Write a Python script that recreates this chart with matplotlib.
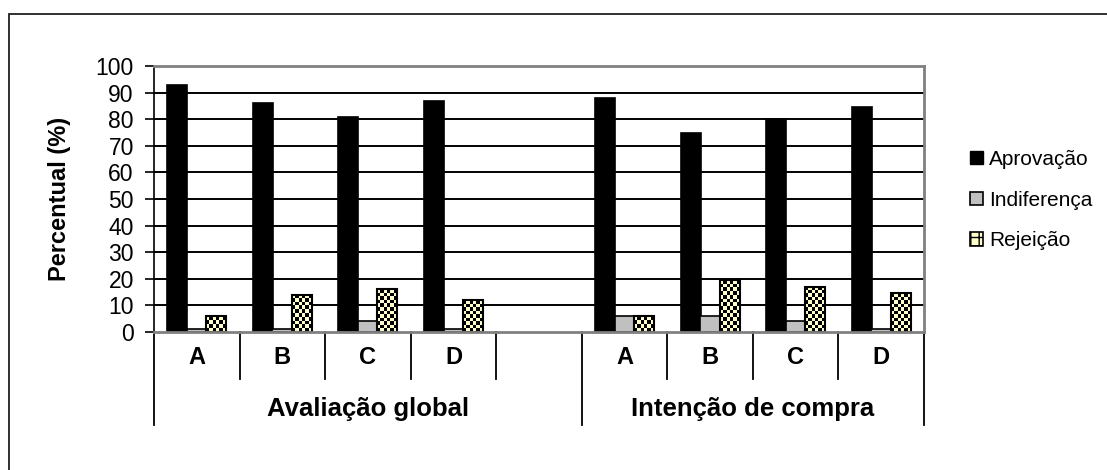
import numpy as np
import matplotlib
matplotlib.use("Agg")
import matplotlib.pyplot as plt
from matplotlib.patches import Patch, Rectangle
from matplotlib.lines import Line2D
import matplotlib.transforms as mtransforms

# ---------------- data ----------------
categories = ['A', 'B', 'C', 'D']
groups = ['Avaliação global', 'Intenção de compra']
series_names = ['Aprovação', 'Indiferença', 'Rejeição']

aprovacao_global = [93, 86, 81, 87]
indiferenca_global = [1, 1, 4, 1]
rejeicao_global = [6, 14, 16, 12]

aprovacao_compra = [88, 75, 80, 84.5]
indiferenca_compra = [6, 6, 4, 1]
rejeicao_compra = [6, 19.5, 17, 14.5]

yticks = list(range(0, 101, 10))
ylabel = 'Percentual (%)'

# ---------------- layout ----------------
plt.rcParams['font.family'] = ['Liberation Sans', 'DejaVu Sans']
W, H, DPI = 1107, 470, 100
fig = plt.figure(figsize=(W / DPI, H / DPI), dpi=DPI)

# outer frame
fig.add_artist(Rectangle((9 / W, -0.05), 1.2, 1 - 14 / H + 0.05, transform=fig.transFigure,
                         fill=False, edgecolor='#202020', linewidth=1.3))

ax = fig.add_axes([154 / W, 1 - 332 / H, (924 - 154) / W, (332 - 66) / H])

# positions: group 1 at 0..3, empty slot 4, group 2 at 5..8
pos_g1 = np.arange(len(categories))
pos_g2 = np.arange(len(categories)) + len(categories) + 1
positions = np.concatenate([pos_g1, pos_g2])

aprov = aprovacao_global + aprovacao_compra
indif = indiferenca_global + indiferenca_compra
rejei = rejeicao_global + rejeicao_compra

bw = 0.232
off = 0.228
yellow = '#FFFFCC'
gray = '#C0C0C0'

ax.set_xlim(-0.5, 8.5)
ax.set_ylim(0, 100)

# gridlines
for t in yticks[1:]:
    ax.axhline(t, color='black', linewidth=1.4, zorder=1)

b1 = ax.bar(positions - off, aprov, width=bw, color='black', edgecolor='black',
            linewidth=1.2, zorder=3)
b2 = ax.bar(positions, indif, width=bw, color=gray, edgecolor='black',
            linewidth=1.2, zorder=3)
b3 = ax.bar(positions + off, rejei, width=bw, color=yellow, edgecolor='black',
            linewidth=1.5, zorder=4)

# checkerboard fill for Rejeição bars
px_per_x = (924 - 154) / 9.0
px_per_y = (332 - 66) / 100.0
cell = 3.6
cmap = matplotlib.colors.ListedColormap(['black', yellow])
for r in b3:
    x0, w, h = r.get_x(), r.get_width(), r.get_height()
    nx = max(1, int(round(w * px_per_x / cell)))
    ny = max(1, int(round(h * px_per_y / cell)))
    ii, jj = np.indices((ny, nx))
    chk = ((ii + jj) % 2).astype(float)
    ax.imshow(chk, extent=[x0, x0 + w, 0, h], cmap=cmap, interpolation='nearest',
              aspect='auto', zorder=3.5, origin='lower')
    r.set_facecolor('none')
ax.set_xlim(-0.5, 8.5)
ax.set_ylim(0, 100)

# spines
for s in ['top', 'right']:
    ax.spines[s].set_color('#808080')
    ax.spines[s].set_linewidth(2)
ax.spines['bottom'].set_color('#808080')
ax.spines['bottom'].set_linewidth(2)
ax.spines['left'].set_color('black')
ax.spines['left'].set_linewidth(1.2)
for s in ax.spines.values():
    s.set_zorder(5)

ax.set_yticks(yticks)
ax.set_yticklabels([str(t) for t in yticks], fontsize=16.5)
ax.tick_params(axis='y', direction='out', length=6.5, width=1.2, pad=8, colors='black')
ax.set_xticks([])
ax.set_ylabel(ylabel, fontsize=17, fontweight='bold', labelpad=18)

# multi-level x axis
trans = mtransforms.blended_transform_factory(ax.transData, ax.transAxes)
short_y = -(379 - 332) / 266.0
long_y = -(425 - 332) / 266.0
for xb in np.arange(-0.5, 8.5 + 0.01, 1.0):
    if xb in (-0.5, 4.5, 8.5):
        ax.add_line(Line2D([xb, xb], [0, long_y], transform=trans, color='black',
                           linewidth=1.3, clip_on=False))
    else:
        ax.add_line(Line2D([xb, xb], [0, short_y], transform=trans, color='black',
                           linewidth=1.3, clip_on=False))

lab_y = -(357 - 332) / 266.0
for p, c in zip(positions, categories + categories):
    ax.text(p, lab_y, c, transform=trans, ha='center', va='center',
            fontsize=17, fontweight='bold')

grp_y = -(409 - 332) / 266.0
grp_centers = [(-0.5 + 4.5) / 2, (4.5 + 8.5) / 2]
for gx, g in zip(grp_centers, groups):
    ax.text(gx, grp_y, g, transform=trans, ha='center', va='center',
            fontsize=18.5, fontweight='bold')

# legend
handles = [Patch(facecolor='black', edgecolor='black'),
           Patch(facecolor=gray, edgecolor='black', linewidth=1.2),
           Patch(facecolor=yellow, edgecolor='black', hatch='++', linewidth=1.2)]
leg = fig.legend(handles, series_names, loc='center left',
                 bbox_to_anchor=(962 / W, 1 - 200 / H), frameon=False,
                 fontsize=15, handlelength=0.6, handleheight=0.6,
                 handletextpad=0.3, labelspacing=1.05, borderaxespad=0)

fig.savefig('out.png', dpi=DPI)
